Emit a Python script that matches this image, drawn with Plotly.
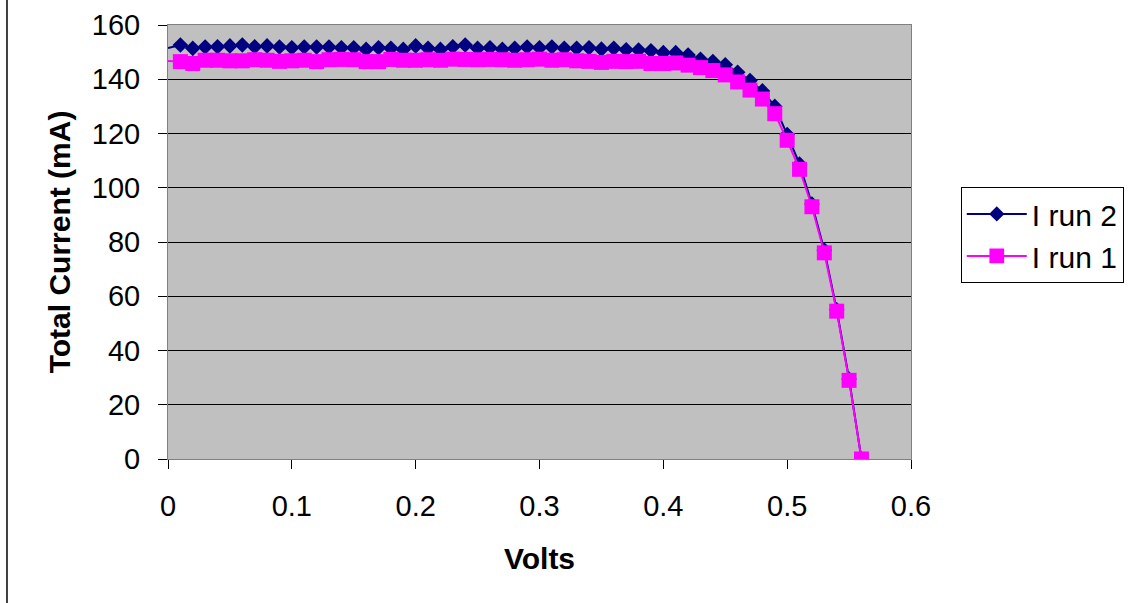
import plotly.graph_objects as go

# Bias voltage (V) for both runs; the 0 V point only anchors the line at the axis
volts = [0.00, 0.01, 0.02, 0.03, 0.04, 0.05, 0.06, 0.07, 0.08, 0.09, 0.10,
         0.11, 0.12, 0.13, 0.14, 0.15, 0.16, 0.17, 0.18, 0.19, 0.20,
         0.21, 0.22, 0.23, 0.24, 0.25, 0.26, 0.27, 0.28, 0.29, 0.30,
         0.31, 0.32, 0.33, 0.34, 0.35, 0.36, 0.37, 0.38, 0.39, 0.40,
         0.41, 0.42, 0.43, 0.44, 0.45, 0.46, 0.47, 0.48, 0.49, 0.50,
         0.51, 0.52, 0.53, 0.54, 0.55, 0.56]

# Total current (mA), run 2
current_run2 = [151.5, 152.6, 151.4, 151.9, 152.0, 152.3, 152.6, 152.0, 152.3, 151.9, 151.6,
                151.9, 151.9, 151.9, 151.6, 151.6, 151.0, 151.6, 151.4, 151.0, 152.3,
                151.4, 151.0, 152.0, 152.6, 151.4, 151.6, 151.0, 151.4, 151.9, 151.6,
                151.9, 151.4, 151.4, 151.6, 151.1, 151.4, 150.9, 150.8, 150.5, 149.8,
                149.8, 148.9, 147.4, 146.5, 145.3, 142.6, 139.5, 135.7, 130.0, 119.6,
                108.7, 94.0, 77.0, 55.0, 29.5, 0.0]

# Total current (mA), run 1
current_run1 = [146.7, 146.5, 145.8, 147.0, 147.0, 146.8, 146.8, 147.2, 147.0, 146.6, 146.8,
                147.0, 146.5, 147.2, 147.3, 147.2, 146.5, 146.5, 147.3, 147.0, 147.0,
                147.2, 147.0, 147.4, 147.3, 147.2, 147.3, 147.2, 147.0, 147.2, 147.4,
                147.0, 147.2, 146.8, 146.6, 146.2, 146.6, 146.5, 146.6, 145.8, 145.8,
                146.0, 145.2, 144.3, 143.2, 141.6, 139.0, 136.0, 132.7, 127.3, 117.5,
                106.8, 93.0, 76.0, 54.5, 29.0, 0.0]

FONT = "Liberation Sans, Arial, sans-serif"


def marker_sizes(n, size):
    # no marker on the 0 V anchor point
    return [0] + [size] * (n - 1)


fig = go.Figure()
fig.add_trace(go.Scatter(
    x=volts, y=current_run2, name="I run 2", mode="lines+markers",
    line=dict(color="#000080", width=2),
    marker=dict(symbol="diamond", color="#000080", size=marker_sizes(len(volts), 12),
                opacity=1, line=dict(width=0)),
))
fig.add_trace(go.Scatter(
    x=volts, y=current_run1, name="I run 1", mode="lines+markers",
    line=dict(color="#FF00FF", width=2),
    marker=dict(symbol="square", color="#FF00FF", size=marker_sizes(len(volts), 15),
                opacity=1, line=dict(width=0)),
))

# outer chart-area border on the left
fig.add_shape(type="line", xref="paper", yref="paper",
              x0=-0.2167, x1=-0.2167, y0=-0.34, y1=1.07,
              line=dict(color="black", width=1.5))

fig.update_layout(
    width=1135, height=603,
    margin=dict(l=168, r=224, t=25, b=144, autoexpand=False),
    paper_bgcolor="white",
    plot_bgcolor="#C0C0C0",
    font=dict(family=FONT, size=28, color="black"),
    showlegend=True,
    legend=dict(
        x=1.067, y=0.627, xanchor="left", yanchor="top",
        bordercolor="black", borderwidth=1, bgcolor="white",
        font=dict(size=30), itemwidth=60, tracegroupgap=0,
    ),
)

fig.update_xaxes(
    range=[0, 0.6], dtick=0.1, tick0=0,
    showgrid=False, zeroline=False,
    showline=True, linecolor="#808080", linewidth=1, mirror=True,
    ticks="outside", ticklen=9, tickcolor="black",
    ticklabelstandoff=12,
    tickfont=dict(size=29),
    title=dict(text="<b>Volts</b>", font=dict(size=30), standoff=27),
)
fig.update_yaxes(
    range=[0, 160], dtick=20, tick0=0,
    showgrid=True, gridcolor="black", gridwidth=1,
    zeroline=False,
    showline=True, linecolor="#808080", linewidth=1, mirror=True,
    ticks="outside", ticklen=9, tickcolor="black",
    ticklabelstandoff=12,
    tickfont=dict(size=29),
    title=dict(text="<b>Total Current (mA)</b>", font=dict(size=30), standoff=12),
)

fig.write_html("out.html")
